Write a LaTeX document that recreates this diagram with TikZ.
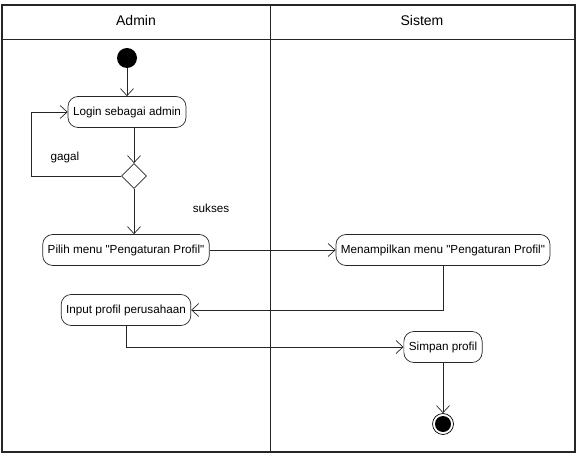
\documentclass[tikz,border=0pt]{standalone}
\usepackage{fontspec}
\setmainfont{Liberation Sans}
\usetikzlibrary{positioning, shapes.geometric, arrows.meta}

\begin{document}
\begin{tikzpicture}[x=1pt, y=-1pt,
        act/.style={draw=black!85, line width=0.7pt, rounded corners=10pt, minimum height=31pt,
                    inner xsep=5pt, font=\fontsize{11.7}{13}\selectfont},
        lbl/.style={font=\fontsize{11.7}{13}\selectfont},
        lane/.style={font=\fontsize{14}{16}\selectfont},
        flow/.style={draw=black!85, line width=0.7pt, -{Straight Barb[length=7pt,width=13pt]}}]
    \useasboundingbox (0,0) rectangle (577,454);
    % swimlanes
    \draw[black!85, line width=1.1pt] (2,5) rectangle (575,452);
    \draw[black!85] (2,39) -- (575,39);
    \draw[black!85, line width=1pt] (270,5) -- (270,452);
    \node[lane] (admin) at (136,20) {Admin};
    \node[lane] (sistem) at (422,20) {Sistem};
    % activities
    \node[circle, fill, minimum size=20pt, inner sep=0pt] (start) at (127,58) {};
    \node[act] (login) at (127,112) {Login sebagai admin};
    \node[diamond, draw=black!85, line width=0.7pt, fill=white, minimum size=25pt, inner sep=0pt] (cek) at (134,176) {};
    \node[act] (pilih) at (126,250) {Pilih menu \textquotedbl Pengaturan Profil\textquotedbl};
    \node[act] (tampil) at (443,250) {Menampilkan menu \textquotedbl Pengaturan Profil\textquotedbl};
    \node[act] (input) at (126,310) {Input profil perusahaan};
    \node[act] (simpan) at (443,347) {Simpan profil};
    \node[circle, draw, line width=0.7pt, minimum size=21pt, inner sep=0pt,
          path picture={\fill (path picture bounding box.center) circle (8pt);}] (stop) at (443,424) {};
    \node[lbl] (gagal) at (65,157) {gagal};
    \node[lbl] (sukses) at (211,208) {sukses};
    % flows
    \draw[flow] (start) -- (login);
    \draw[flow] (login.south -| cek.north) -- (cek.north);
    \draw[flow] (cek.west) -- ++(-90,0) |- (login.west);
    \draw[flow] (cek.south) -- (cek.south |- pilih.north);
    \draw[flow] (pilih.east) -- (tampil.west);
    \draw[flow] (tampil.south) |- (input.east);
    \draw[flow] (input.south) |- (simpan.west);
    \draw[flow] (simpan.south) -- (stop.north);
\end{tikzpicture}
\end{document}
